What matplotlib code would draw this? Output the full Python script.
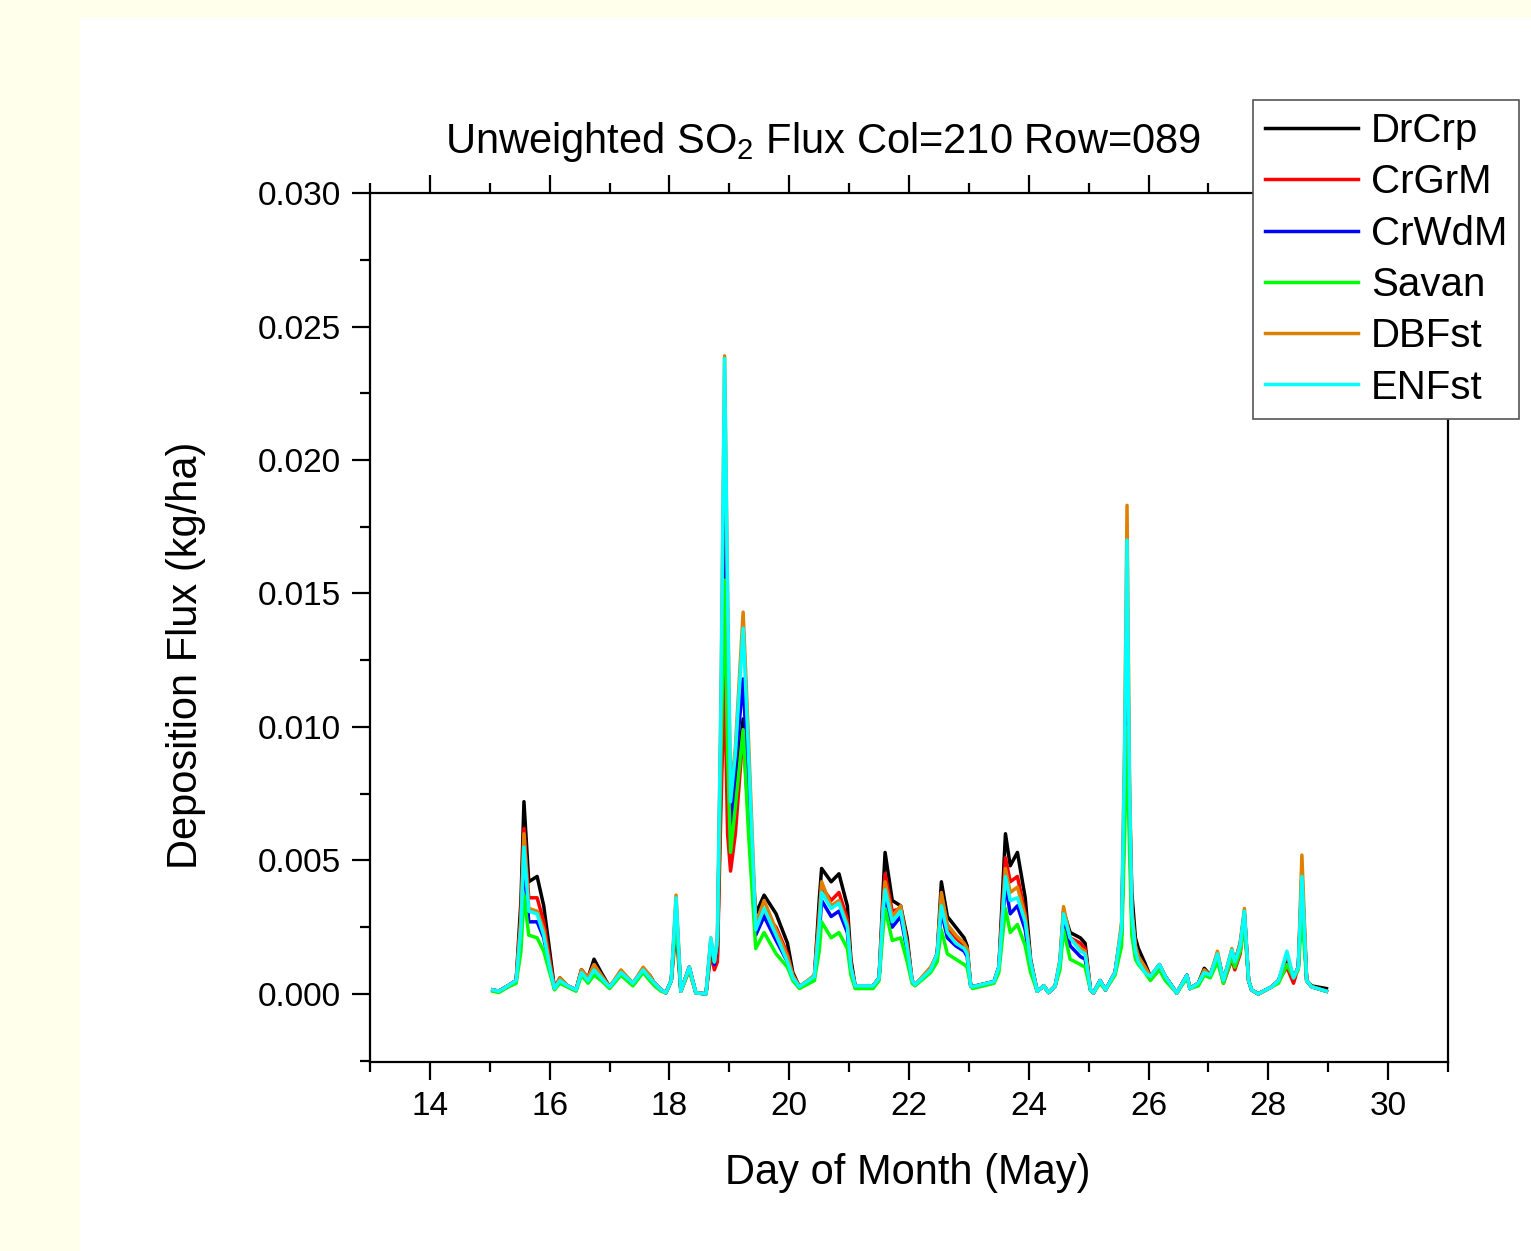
import matplotlib.pyplot as plt
from matplotlib.patches import Rectangle
from matplotlib.ticker import MultipleLocator

plt.rcParams['font.family'] = ['Liberation Sans', 'DejaVu Sans']
plt.rcParams['mathtext.fontset'] = 'custom'
plt.rcParams['mathtext.rm'] = 'Liberation Sans'

# day of month (May)
days = [15.05, 15.15, 15.30, 15.44, 15.52, 15.57, 15.65, 15.79, 15.90, 16.00,
        16.08, 16.17, 16.30, 16.44, 16.53, 16.64, 16.74, 16.86, 17.00, 17.19,
        17.39, 17.56, 17.67, 17.75, 17.86, 17.94, 18.03, 18.11, 18.19, 18.33,
        18.44, 18.61, 18.69, 18.75, 18.80, 18.86, 18.92, 18.97, 19.02, 19.10,
        19.23, 19.32, 19.44, 19.58, 19.78, 19.97, 20.06, 20.17, 20.42, 20.50,
        20.54, 20.70, 20.83, 20.97, 21.03, 21.10, 21.40, 21.50, 21.57, 21.60,
        21.72, 21.86, 21.97, 22.05, 22.10, 22.36, 22.47, 22.54, 22.64, 22.78,
        22.92, 22.97, 23.03, 23.06, 23.42, 23.50, 23.61, 23.69, 23.81, 23.94,
        24.03, 24.14, 24.25, 24.33, 24.44, 24.52, 24.58, 24.69, 24.86, 24.94,
        25.03, 25.08, 25.19, 25.28, 25.44, 25.55, 25.60, 25.64, 25.68, 25.72,
        25.78, 25.83, 25.94, 26.03, 26.18, 26.28, 26.47, 26.64, 26.69, 26.83,
        26.93, 27.03, 27.15, 27.25, 27.39, 27.44, 27.53, 27.60, 27.67, 27.72,
        27.83, 28.06, 28.17, 28.31, 28.42, 28.50, 28.56, 28.64, 28.72, 28.97]

DrCrp = [.00015, .0001, .0003, .0005, .0035, .0072, .0042, .0044, .0033, .0016,
         .0002, .0006, .0003, .00015, .0009, .0006, .0013, .0008, .00026, .0008,
         .0004, .0009, .0007, .0004, .00015, .00004, .0005, .0033, .0001, .0010,
         .00004, 0.0, .0018, .0011, .0014, .0080, .0185, .0090, .0060, .0075,
         .0103, .0070, .0030, .0037, .0030, .0019, .0008, .00027, .00065, .0035,
         .0047, .0042, .0045, .0033, .0013, .0003, .0003, .0006, .0040, .0053,
         .0035, .0033, .0021, .0005, .00034, .0009, .0015, .0042, .0029, .0025,
         .0021, .0018, .0003, .00027, .00046, .0010, .0060, .0048, .0053, .0036,
         .0013, .0001, .0003, .00005, .0003, .0012, .0031, .0023, .0021, .0019,
         .00015, .00004, .0005, .00015, .0008, .0025, .0080, .0150, .0075, .0038,
         .0021, .0017, .00115, .00065, .0011, .00065, .00003, .0007, .0002, .0004,
         .00096, .0007, .0015, .0005, .0016, .0012, .0018, .0030, .0005, .00015,
         0.0, .00027, .0005, .0013, .0006, .0010, .0045, .0005, .0003, .0002]

CrGrM = [.00015, .0001, .0003, .0005, .0030, .0062, .0036, .0036, .0027, .0013,
         .0002, .0005, .0003, .00015, .0009, .0006, .0011, .0007, .00026, .0008,
         .0004, .0009, .0006, .0004, .00015, .00004, .0005, .0024, .0001, .0009,
         .00004, 0.0, .0015, .0009, .0012, .0070, .0120, .0060, .0046, .0060,
         .0098, .0065, .0026, .0030, .0025, .0015, .0007, .00027, .00065, .0030,
         .0040, .0035, .0038, .0028, .0011, .0003, .0003, .0006, .0035, .0045,
         .0031, .0032, .0019, .0005, .00034, .0009, .0015, .0036, .0024, .0021,
         .0018, .0016, .0003, .00027, .00046, .0010, .0051, .0042, .0044, .0030,
         .0012, .0001, .0003, .00005, .0003, .0011, .0029, .0021, .0019, .0017,
         .00015, .00004, .0005, .00015, .0008, .0022, .0070, .0125, .0065, .0030,
         .0018, .0014, .0010, .00065, .0010, .00065, .00003, .0007, .0002, .0004,
         .0008, .0007, .0014, .0004, .0013, .0009, .0015, .0028, .0005, .00015,
         0.0, .00027, .0005, .0010, .0004, .0010, .0040, .0005, .00027, .0001]

CrWdM = [.00015, .0001, .0003, .0005, .0022, .0051, .0027, .0027, .0021, .0010,
         .0002, .0005, .0003, .00015, .0008, .0005, .0009, .0006, .00026, .0008,
         .0004, .0009, .0006, .0004, .00015, .00004, .0005, .0030, .0001, .0010,
         .00004, 0.0, .0019, .0011, .0018, .0100, .0205, .0110, .0063, .0085,
         .0118, .0075, .0022, .0029, .0020, .0012, .0006, .00027, .00065, .0022,
         .0035, .0029, .0031, .0023, .0009, .0003, .0003, .0006, .0030, .0037,
         .0025, .0029, .0016, .0005, .00034, .0009, .0015, .0031, .0021, .0018,
         .0016, .0014, .0003, .00027, .00046, .0010, .0041, .0030, .0033, .0024,
         .0010, .0001, .0003, .00005, .0003, .0011, .0028, .0018, .0014, .0013,
         .00015, .00004, .0005, .00015, .0008, .0024, .0075, .0134, .0070, .0028,
         .0015, .0012, .0009, .00065, .0010, .00065, .00003, .0007, .0002, .0004,
         .0008, .0007, .0015, .0005, .0016, .0012, .0019, .0030, .0005, .00015,
         0.0, .00027, .0005, .0014, .0006, .0010, .0040, .0005, .00027, .0001]

Savan = [.0001, .00005, .00025, .0004, .0016, .0037, .0022, .0021, .0016, .0008,
         .00015, .0004, .00025, .0001, .0007, .0004, .0007, .0005, .0002, .0007,
         .0003, .0008, .0005, .0003, .0001, .00004, .0005, .0028, .0001, .0009,
         .00004, 0.0, .0019, .0012, .0019, .0090, .0155, .0090, .0053, .0070,
         .0099, .0060, .0017, .0023, .0015, .0010, .0005, .0002, .0005, .0016,
         .0027, .0021, .0023, .0017, .0007, .0002, .0002, .0005, .0025, .0032,
         .0020, .0021, .0012, .0004, .0003, .0008, .0012, .0024, .0015, .0013,
         .0011, .0010, .0003, .0002, .0004, .0008, .0032, .0023, .0026, .0018,
         .0008, .0001, .0003, .00005, .0003, .0009, .0024, .0013, .0011, .0010,
         .00015, .00004, .0004, .00015, .0007, .0018, .0060, .0100, .0055, .0022,
         .0013, .0011, .0008, .0005, .0009, .0005, .00003, .0006, .0002, .0003,
         .0007, .0006, .0012, .0004, .0014, .0010, .0016, .0026, .0005, .00015,
         0.0, .00027, .0004, .0011, .0006, .0009, .0030, .0005, .00027, .0001]

DBFst = [.00015, .0001, .0003, .0005, .0028, .0060, .0032, .0031, .0024, .0011,
         .0002, .0006, .0003, .00015, .0009, .0006, .0011, .0007, .00026, .0009,
         .0004, .0010, .0007, .0004, .00015, .00004, .0005, .0037, .0001, .0010,
         .00004, 0.0, .0021, .0012, .0021, .0110, .0239, .0150, .0075, .0092,
         .0143, .0095, .0026, .0035, .0024, .0014, .0007, .00027, .0007, .0028,
         .0042, .0033, .0035, .0026, .0010, .0003, .0003, .0006, .0034, .0042,
         .0029, .0033, .0018, .0005, .00034, .0010, .0015, .0038, .0026, .0022,
         .0019, .0017, .0003, .00027, .00046, .0010, .0047, .0038, .0040, .0029,
         .0012, .0001, .0003, .00005, .0003, .0013, .00327, .0021, .0017, .0016,
         .00015, .00004, .0005, .00015, .0008, .0027, .0095, .0183, .0085, .0032,
         .0018, .0014, .0010, .00065, .0011, .00065, .00003, .0007, .0002, .0004,
         .0009, .0007, .0016, .0005, .0017, .0012, .0019, .0032, .0005, .00015,
         0.0, .00027, .0005, .0015, .0006, .0010, .0052, .0005, .00027, .0001]

ENFst = [.00015, .0001, .0003, .0005, .0025, .0055, .0031, .0030, .0022, .0010,
         .0002, .0005, .0003, .00015, .0008, .0005, .0009, .0006, .00026, .0008,
         .0004, .0009, .0006, .0004, .00015, .00004, .0005, .0036, .0001, .0010,
         .00004, 0.0, .0021, .0012, .0021, .0110, .0238, .0150, .0072, .0090,
         .0137, .0090, .0024, .0032, .0022, .0012, .0006, .00027, .00065, .0025,
         .0038, .0032, .0034, .0025, .0010, .0003, .0003, .0006, .0032, .0039,
         .0027, .0031, .0017, .0005, .00034, .0009, .0015, .0033, .0023, .0019,
         .0017, .0015, .0003, .00027, .00046, .0010, .0044, .0035, .0036, .0027,
         .0012, .0001, .0003, .00005, .0003, .0012, .0030, .0021, .0016, .0015,
         .00015, .00004, .0005, .00015, .0008, .0025, .0090, .0170, .0080, .0030,
         .0016, .0012, .0008, .00065, .0011, .00065, .00003, .0007, .0002, .0004,
         .0008, .0007, .0015, .0005, .00165, .0012, .0018, .0031, .0005, .00015,
         0.0, .00027, .0005, .0016, .0006, .0010, .0044, .0005, .00027, .0001]

series_names = ['DrCrp', 'CrGrM', 'CrWdM', 'Savan', 'DBFst', 'ENFst']
series_vals = [DrCrp, CrGrM, CrWdM, Savan, DBFst, ENFst]
colors = ['#000000', '#FF0000', '#0000FF', '#00FF00', '#E08000', '#00FFFF']

fig = plt.figure(figsize=(15.31, 12.51), dpi=100, facecolor='#FFFFEB')
fig.patches.append(Rectangle((80 / 1531, 0), 1 - 80 / 1531, 1 - 18 / 1251,
                             transform=fig.transFigure, facecolor='white',
                             edgecolor='none', zorder=-10))

ax = fig.add_axes([0.2417, 0.1511, 0.7041, 0.6946])
ax.set_zorder(1)
ax.set_facecolor('white')

for name, vals, c in zip(series_names, series_vals, colors):
    ax.plot(days, vals, color=c, lw=2.5, label=name)

ax.set_xlim(13, 31)
ax.set_ylim(-0.00255, 0.030)
ax.xaxis.set_major_locator(MultipleLocator(2))
ax.xaxis.set_minor_locator(MultipleLocator(1))
ax.yaxis.set_major_locator(MultipleLocator(0.005))
ax.yaxis.set_minor_locator(MultipleLocator(0.0025))
ax.set_yticks([0, 0.005, 0.010, 0.015, 0.020, 0.025, 0.030])
ax.set_yticklabels(['0.000', '0.005', '0.010', '0.015', '0.020', '0.025', '0.030'])
ax.set_xticks([14, 16, 18, 20, 22, 24, 26, 28, 30])

ax.tick_params(axis='both', which='major', direction='out', length=13, width=1.6,
               labelsize=24, pad=8)
ax.tick_params(axis='both', which='minor', direction='out', length=7, width=1.6)
ax.tick_params(axis='x', which='both', top=True, labeltop=False)
ax.tick_params(axis='y', which='both', right=False)
for s in ax.spines.values():
    s.set_linewidth(1.6)

ax.set_xlabel('Day of Month (May)', fontsize=30)
ax.set_ylabel('Deposition Flux (kg/ha)', fontsize=30)
ax.xaxis.set_label_coords(0.499, -0.105)
ax.yaxis.set_label_coords(-0.152, 0.468)

fig.text(823 / 1531, 1 - 142 / 1251, 'Unweighted SO$_2$ Flux Col=210 Row=089',
         fontsize=30, ha='center', va='center')

leg = ax.legend(loc='upper left', bbox_to_anchor=(1253 / 1531, 1 - 100 / 1251),
                bbox_transform=fig.transFigure, fontsize=29, frameon=True,
                fancybox=False, framealpha=1, handlelength=2.3,
                handletextpad=0.33, labelspacing=0.33, borderpad=0.3,
                borderaxespad=0)
leg.get_frame().set_edgecolor('#555555')
leg.get_frame().set_linewidth(1.2)
for line in leg.get_lines():
    line.set_linewidth(2.5)

fig.savefig('out.png', dpi=100, facecolor=fig.get_facecolor())
